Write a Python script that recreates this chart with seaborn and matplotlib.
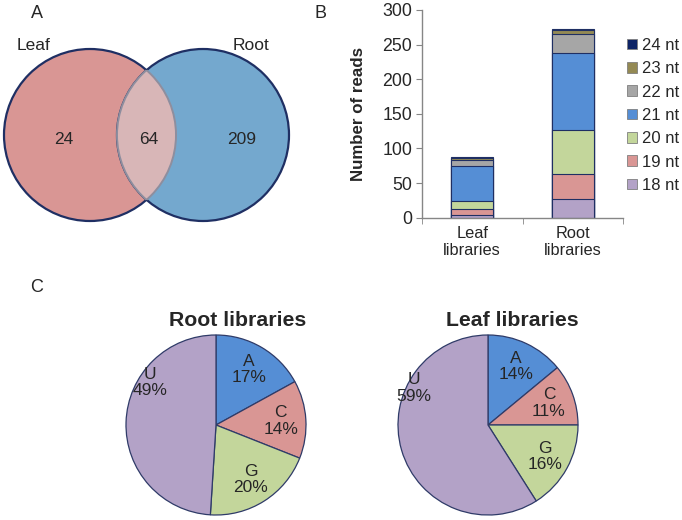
import matplotlib
matplotlib.use("Agg")
import matplotlib.pyplot as plt
from matplotlib.patches import Circle, Patch
import seaborn as sns
import pandas as pd
import numpy as np

# ---------------- data ----------------
venn_sets = ["Leaf", "Root"]
venn_counts = [24, 64, 209]          # leaf only, shared, root only

libraries = ["Leaf\nlibraries", "Root\nlibraries"]
nt_lengths = ["18 nt", "19 nt", "20 nt", "21 nt", "22 nt", "23 nt", "24 nt"]
leaf_reads = [4, 8, 12, 50, 10, 2, 2]
root_reads = [27, 36, 64, 111, 28, 5, 2]

pie_bases = ["A", "C", "G", "U"]
root_pct = [17, 14, 20, 49]
leaf_pct = [14, 11, 16, 59]

# ---------------- style ----------------
sns.set_style("white")
plt.rcParams["font.family"] = ["Liberation Sans", "DejaVu Sans"]

nt_colors = ["#B3A2C7", "#D99694", "#C3D69B", "#558ED5", "#A6A6A6", "#948A54", "#0E2466"]
base_colors = ["#558ED5", "#D99694", "#C3D69B", "#B3A2C7"]
navy = "#1F2F63"
W, H = 682, 520

fig = plt.figure(figsize=(W / 100, H / 100), dpi=100)

def rect(x0, y0, x1, y1):
    return [x0 / W, 1 - y1 / H, (x1 - x0) / W, (y1 - y0) / H]

# ---------------- panel A: Venn ----------------
axv = fig.add_axes(rect(0, 30, 300, 240))
axv.set_xlim(0, 300)
axv.set_ylim(240, 30)
axv.set_aspect("equal")
axv.axis("off")
r = 86
c_leaf = (90, 135)
c_root = (203, 135)
leaf_c = Circle(c_leaf, r, facecolor="#D99694", edgecolor=navy, lw=1.6, zorder=1)
root_c = Circle(c_root, r, facecolor="#74A8CE", edgecolor=navy, lw=1.6, zorder=2)
axv.add_patch(leaf_c)
axv.add_patch(root_c)
lens = Circle(c_leaf, r, facecolor="#D8B6B7", edgecolor="#8E8E9E", lw=1.4, zorder=3)
axv.add_patch(lens)
lens.set_clip_path(root_c)
lens_edge = Circle(c_root, r, facecolor="none", edgecolor="#8E8E9E", lw=1.4, zorder=4)
axv.add_patch(lens_edge)
lens_edge.set_clip_path(leaf_c)
axv.text(64, 139, str(venn_counts[0]), ha="center", va="center", fontsize=12.5, zorder=5)
axv.text(149, 139, str(venn_counts[1]), ha="center", va="center", fontsize=12.5, zorder=5)
axv.text(242, 139, str(venn_counts[2]), ha="center", va="center", fontsize=12.5, zorder=5)
axv.text(34, 45, venn_sets[0], ha="center", va="center", fontsize=12.5)
axv.text(251, 45, venn_sets[1], ha="center", va="center", fontsize=12.5)

fig.text(37 / W, 1 - 14 / H, "A", ha="center", va="center", fontsize=13)
fig.text(320 / W, 1 - 14 / H, "B", ha="center", va="center", fontsize=13)
fig.text(37 / W, 1 - 288 / H, "C", ha="center", va="center", fontsize=13)

# ---------------- panel B: stacked bars ----------------
axb = fig.add_axes(rect(422, 10, 623, 217.7))
rows = []
for lib, vals in zip(libraries, [leaf_reads, root_reads]):
    cum = np.cumsum(vals)
    for nt, v, c in zip(nt_lengths, vals, cum):
        rows.append({"library": lib, "nt": nt, "reads": v, "cum": c})
df = pd.DataFrame(rows)

for nt, col in reversed(list(zip(nt_lengths, nt_colors))):
    sub = df[df["nt"] == nt]
    sns.barplot(data=sub, x="library", y="cum", order=libraries, color=col,
                width=0.42, edgecolor=navy, linewidth=0.8, saturation=1,
                errorbar=None, ax=axb)

axb.set_xlim(-0.5, 1.5)
axb.set_ylim(0, 300)
axb.set_yticks(range(0, 301, 50))
axb.set_xlabel("")
axb.set_ylabel("Number of reads", fontsize=12.2, fontweight="bold", labelpad=12)
for s in ["top", "right"]:
    axb.spines[s].set_visible(False)
for s in ["left", "bottom"]:
    axb.spines[s].set_color("#868686")
    axb.spines[s].set_linewidth(1.0)
axb.tick_params(axis="y", which="major", length=4, color="#868686", left=True,
                labelsize=12.8, pad=3)
axb.tick_params(axis="x", which="major", length=0, labelsize=11.8, pad=6)
axb.set_xticks([-0.5, 0.5, 1.5], minor=True)
axb.tick_params(axis="x", which="minor", length=4, color="#868686", bottom=True)

handles = [Patch(facecolor=c, edgecolor="#7F7F7F", lw=0.6, label=nt)
           for nt, c in zip(nt_lengths, nt_colors)][::-1]
fig.legend(handles=handles, loc="upper left", bbox_to_anchor=(627 / W, 1 - 38 / H),
           frameon=False, fontsize=12, handlelength=0.6, handleheight=0.6,
           handletextpad=0.3, labelspacing=0.5, borderaxespad=0, borderpad=0)

# ---------------- panel C: pies ----------------
def draw_pie(cx, cy, pct, title, tx, u_pos):
    R = 90
    ax = fig.add_axes(rect(cx - R, cy - R, cx + R, cy + R))
    labels = [f"{b}\n{p}%" for b, p in zip(pie_bases, pct)]
    wedges, texts = ax.pie(pct, colors=base_colors, startangle=90, counterclock=False,
                           labels=labels, labeldistance=0.72,
                           wedgeprops=dict(edgecolor="#2F3B68", linewidth=0.9),
                           textprops=dict(fontsize=12.5, linespacing=1.1))
    for t in texts:
        t.set_ha("center")
        t.set_va("center")
    texts[3].set_position(u_pos)
    ax.set_xlim(-1, 1)
    ax.set_ylim(-1, 1)
    ax.set_aspect("equal")
    fig.text(tx / W, 1 - 320 / H, title, ha="center", va="center",
             fontsize=15.3, fontweight="bold")

draw_pie(216, 425, root_pct, "Root libraries", 238, (-0.73, 0.47))
draw_pie(488, 425, leaf_pct, "Leaf libraries", 512, (-0.82, 0.41))

fig.savefig("out.png", dpi=100)
